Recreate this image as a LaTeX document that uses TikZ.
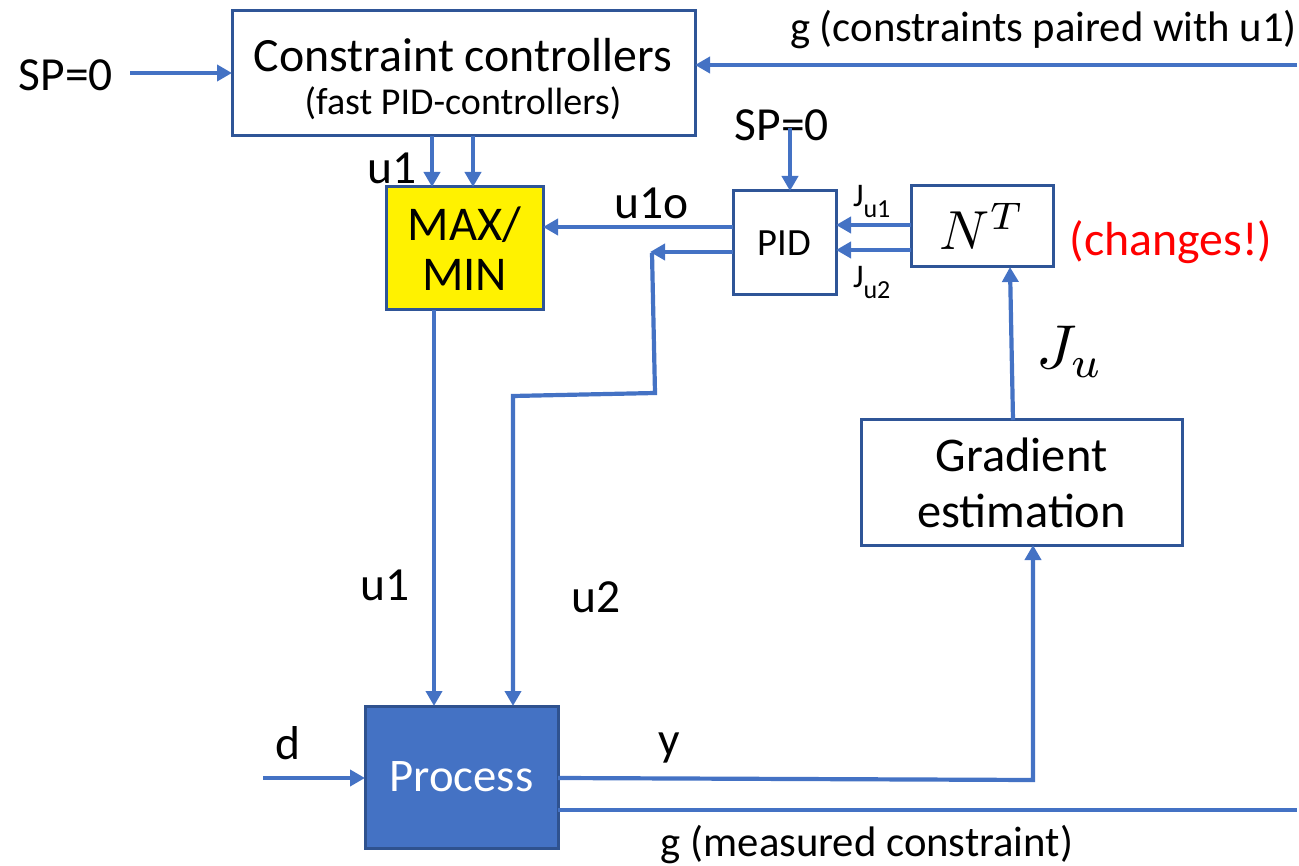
\documentclass[tikz,border=0pt]{standalone}
\usepackage{fontspec}
\setmainfont{Carlito}
\usetikzlibrary{arrows.meta}
\definecolor{lineblue}{HTML}{4472C4}
\definecolor{boxblue}{HTML}{2F5597}
\definecolor{procedge}{HTML}{2F528F}
\newcommand{\fs}[1]{\fontsize{#1}{#1}\selectfont}
\tikzset{
  conn/.style={draw=lineblue, line width=4.2pt},
  arr/.style={conn, -{Triangle[length=15pt,width=16pt]}},
  blk/.style={draw=boxblue, line width=3pt, fill=white, inner sep=0pt, outer sep=0pt, align=center},
  lbl/.style={inner sep=0pt, outer sep=0pt, align=center},
}
\begin{document}
\begin{tikzpicture}[x=1pt,y=-1pt]
\useasboundingbox (0,0) rectangle (1299,866);
% boxes
\node[blk, minimum width=463pt, minimum height=125pt] (cc) at (463.5,73.5) {};
\node[lbl] (cct1) at (463,55) {\fs{47.8}Constraint controllers};
\node[lbl] (cct2) at (463,103) {\fs{38}(fast PID-controllers)};
\node[blk, fill=yellow, minimum width=157pt, minimum height=123pt, font=\fontsize{48.5}{50}\selectfont] (mm) at (464.5,248.5) {MAX/\\MIN};
\node[blk, minimum width=103pt, minimum height=104pt, font=\fs{38.5}] (pid) at (784.5,243) {PID};
\node[blk, minimum width=142pt, minimum height=81pt] (nt) at (982,226.5) {\scalebox{5.5}{$N^T$}};
\node[blk, minimum width=321pt, minimum height=125pt, font=\fontsize{48.4}{56}\selectfont] (ge) at (1021.5,482.5) {Gradient\\estimation};
\node[blk, fill=lineblue, draw=procedge, text=white, minimum width=193pt, minimum height=142pt, font=\fs{46.7}] (proc) at (461.5,777) {Process};
% labels
\node[lbl] (sp1) at (66,75) {\fs{47.5}SP=0};
\node[lbl, anchor=east] (gtop) at (1297,30) {\fs{42.7}g (constraints paired with u1)};
\node[lbl] (u1top) at (392,168) {\fs{47.5}u1};
\node[lbl] (u1o) at (652,203) {\fs{47.5}u1o};
\node[lbl] (sp2) at (782,125) {\fs{47.5}SP=0};
\node[lbl, anchor=base west] (ju1) at (853,207) {\fs{33}J\raisebox{-11pt}{\fs{26}u1}};
\node[lbl, anchor=base west] (ju2) at (853,288) {\fs{33}J\raisebox{-11pt}{\fs{26}u2}};
\node[lbl, text=red] (chg) at (1171,242) {\fs{47.8}(changes!)};
\node[lbl] (ju) at (1070,352) {\scalebox{6.2}{$J_u$}};
\node[lbl] (u1m) at (385,585) {\fs{47.5}u1};
\node[lbl] (u2m) at (596,597) {\fs{47.5}u2};
\node[lbl] (dl) at (288,743) {\fs{47.5}d};
\node[lbl] (yl) at (669,748) {\fs{47.5}y};
\node[lbl] (gbot) at (867,845) {\fs{42.7}g (measured constraint)};
% coordinates
\coordinate (a1) at (130,73);
\coordinate (g1) at (1297,65);
\coordinate (c1) at (432,0);
\coordinate (c2) at (473,0);
\coordinate (c3) at (434,0);
\coordinate (c4) at (0,227);
\coordinate (c5) at (650,252);
\coordinate (b1) at (652,253);
\coordinate (b2) at (655,393);
\coordinate (b3) at (513,396);
\coordinate (s2) at (790,128);
\coordinate (c7) at (0,225);
\coordinate (c8) at (0,250);
\coordinate (c9) at (1013,0);
\coordinate (c9b) at (1010,0);
\coordinate (d1) at (263,778);
\coordinate (y0) at (0,778);
\coordinate (y1) at (1033,780);
\coordinate (g2) at (1297,810);
% connectors
\draw[arr] (a1) -- (a1 -| cc.west);
\draw[arr] (g1) -- (g1 -| cc.east);
\draw[arr] (c1 |- cc.south) -- (c1 |- mm.north);
\draw[arr] (c2 |- cc.south) -- (c2 |- mm.north);
\draw[arr] (c3 |- mm.south) -- (c3 |- proc.north);
\draw[arr] (c4 -| pid.west) -- (c4 -| mm.east);
\draw[arr] (c5 -| pid.west) -- (c5);
\draw[arr] (b1) -- (b2) -- (b3) -- (b3 |- proc.north);
\draw[arr] (s2) -- (s2 |- pid.north);
\draw[arr] (c7 -| nt.west) -- (c7 -| pid.east);
\draw[arr] (c8 -| nt.west) -- (c8 -| pid.east);
\draw[arr] (c9 |- ge.north) -- (c9b |- nt.south);
\draw[arr] (d1) -- (d1 -| proc.west);
\draw[arr] (y0 -| proc.east) -- (y1) -- (y1 |- ge.south);
\draw[conn] (g2 -| proc.east) -- (g2);
\end{tikzpicture}
\end{document}
